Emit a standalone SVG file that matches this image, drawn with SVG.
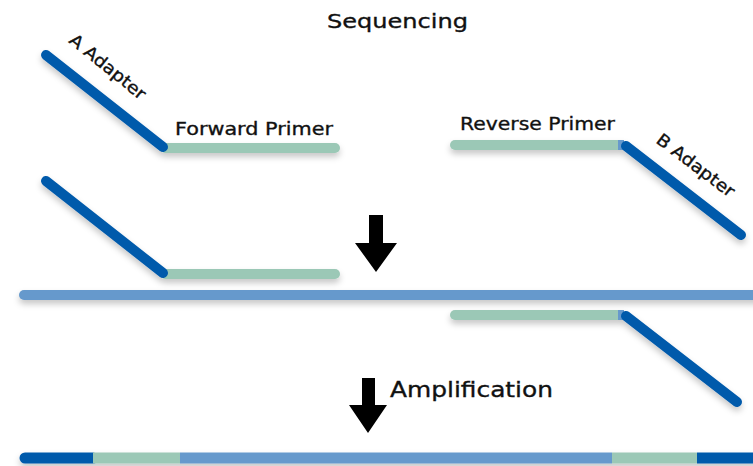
<svg xmlns="http://www.w3.org/2000/svg" width="753" height="466" viewBox="0 0 753 466">
  <defs>
    <filter id="soft-shadow" filterUnits="userSpaceOnUse" x="-50" y="-50" width="860" height="570">
      <feDropShadow dx="0" dy="4" stdDeviation="3" flood-color="#000" flood-opacity="0.22"/>
    </filter>
    <style>
      .strand { fill: none; stroke-width: 10; stroke-linecap: round; }
      .adapter { stroke: #005aab; }
      .primer { stroke: #9bc8b6; }
      .template { stroke: #6699cc; }
      .seg { fill: none; stroke-width: 11; }
      .label { font-family: "DejaVu Sans", Verdana, sans-serif; fill: #111; stroke: #111; stroke-width: 0.35; }
      .arrow { fill: #000; }
    </style>
  </defs>

  <rect width="753" height="466" fill="#fff"/>

  <!-- heading -->
  <g id="title">
    <text class="label" x="327" y="28" font-size="20" textLength="141" lengthAdjust="spacingAndGlyphs">Sequencing</text>
  </g>

  <!-- forward primer with A adapter -->
  <g id="forward-construct">
    <g filter="url(#soft-shadow)">
      <line class="strand primer" x1="165" y1="148" x2="335" y2="148"/>
      <line class="strand adapter" x1="46" y1="55" x2="163" y2="147"/>
    </g>
    <text class="label" transform="translate(68,42) rotate(39)" font-size="17" textLength="93" lengthAdjust="spacingAndGlyphs">A Adapter</text>
    <text class="label" x="175" y="135" font-size="18" textLength="158" lengthAdjust="spacingAndGlyphs">Forward Primer</text>
  </g>

  <!-- reverse primer with B adapter -->
  <g id="reverse-construct">
    <g filter="url(#soft-shadow)">
      <line class="strand primer" x1="455" y1="145" x2="620" y2="145"/>
      <line x1="618" y1="145" x2="624" y2="145" stroke="#6699cc" stroke-width="10"/>
      <line class="strand adapter" x1="626" y1="146" x2="741" y2="235"/>
    </g>
    <text class="label" x="460" y="130" font-size="18" textLength="155" lengthAdjust="spacingAndGlyphs">Reverse Primer</text>
    <text class="label" transform="translate(655,142) rotate(37)" font-size="17" textLength="93" lengthAdjust="spacingAndGlyphs">B Adapter</text>
  </g>

  <!-- forward primer annealed above the template -->
  <g id="forward-annealed" filter="url(#soft-shadow)">
    <line class="strand primer" x1="165" y1="274" x2="335" y2="274"/>
    <line class="strand adapter" x1="46" y1="181" x2="163" y2="273"/>
  </g>

  <!-- template strand -->
  <g id="template" filter="url(#soft-shadow)">
    <line class="strand template" x1="24" y1="295" x2="770" y2="295"/>
  </g>

  <!-- reverse primer annealed below the template -->
  <g id="reverse-annealed" filter="url(#soft-shadow)">
    <line class="strand primer" x1="455" y1="315" x2="620" y2="315"/>
    <line x1="618" y1="315" x2="624" y2="315" stroke="#6699cc" stroke-width="10"/>
    <line class="strand adapter" x1="626" y1="316" x2="737" y2="402"/>
  </g>

  <!-- amplified product -->
  <g id="product" filter="url(#soft-shadow)">
    <line x1="25" y1="458" x2="93" y2="458" stroke="#005aab" stroke-width="11" stroke-linecap="round"/>
    <line class="seg" x1="93" y1="458" x2="180" y2="458" stroke="#9bc8b6"/>
    <line class="seg" x1="180" y1="458" x2="612" y2="458" stroke="#6699cc"/>
    <line class="seg" x1="612" y1="458" x2="697" y2="458" stroke="#9bc8b6"/>
    <line class="seg" x1="697" y1="458" x2="760" y2="458" stroke="#005aab"/>
  </g>

  <!-- step arrows -->
  <g id="connectors">
    <polygon class="arrow" points="369,215 383,215 383,243 397,243 376,272 355,243 369,243"/>
    <polygon class="arrow" points="362,378 375,378 375,405 387,405 368,433 349,405 362,405"/>
    <text class="label" x="390" y="397" font-size="21" textLength="163" lengthAdjust="spacingAndGlyphs">Amplification</text>
  </g>
</svg>
